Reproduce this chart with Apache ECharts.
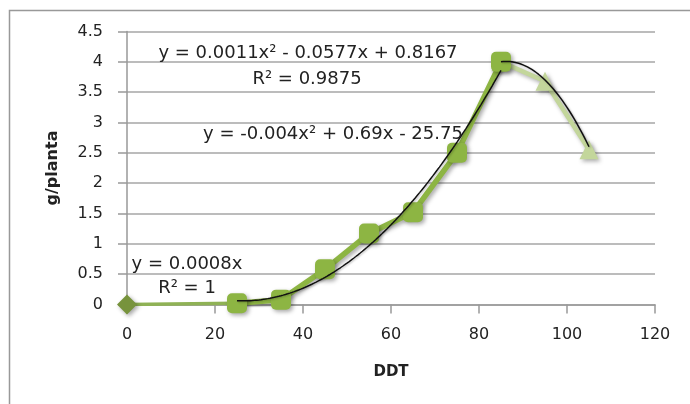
<!DOCTYPE html>
<html>
<head>
<meta charset="utf-8">
<script src="https://cdn.jsdelivr.net/npm/echarts@6/dist/echarts.min.js"></script>
<style>
  html, body { margin: 0; padding: 0; background: #fff; }
  #chart { width: 690px; height: 404px; }
</style>
</head>
<body>
<div id="chart"></div>
<script>
// Dry matter per plant (g/planta) against accumulated degree days (DDT)
const phase1 = [[0, 0], [25, 0.02]];
const phase2 = [[25, 0.02], [35, 0.08], [45, 0.58], [55, 1.17], [65, 1.52], [75, 2.5], [85, 4.0]];
const phase3 = [[85, 4.0], [95, 3.68], [105, 2.55]];

// Polynomial trendline coefficients [c2, c1, c0] and their x ranges
const trend2 = [0.0011, -0.0577, 0.8167];
const trend2Range = [25, 85];
const trend3 = [-0.004, 0.69, -25.75];
const trend3Range = [85, 105];

const xTicks = [0, 20, 40, 60, 80, 100, 120];
const yTicks = [0, 0.5, 1, 1.5, 2, 2.5, 3, 3.5, 4, 4.5];

const eqLabels = [
  'y = 0.0011x² - 0.0577x + 0.8167',
  'R² = 0.9875',
  'y = -0.004x² + 0.69x - 25.75',
  'y = 0.0008x',
  'R² = 1'
];

function polyCurve(c, range) {
  const pts = [];
  for (let x = range[0]; x <= range[1] + 1e-9; x += 0.5) {
    pts.push([x, c[0] * x * x + c[1] * x + c[2]]);
  }
  return pts;
}

const FONT = 'DejaVu Sans';
const EQ_FONT = '18px "' + FONT + '"';
const chart = echarts.init(document.getElementById('chart'), null, { renderer: 'canvas' });
const shadow = { shadowBlur: 4, shadowOffsetX: 2, shadowOffsetY: 2, shadowColor: 'rgba(0,0,0,0.35)' };
const trendStyle = { color: '#111', width: 1.5, shadowBlur: 2, shadowOffsetX: 1, shadowOffsetY: 1, shadowColor: 'rgba(0,0,0,0.25)' };

function eqText(x, y, text) {
  return { type: 'text', x: x, y: y, z: 10,
    style: { text: text, font: EQ_FONT, fill: '#222', align: 'center', verticalAlign: 'middle' } };
}

chart.setOption({
  animation: false,
  backgroundColor: '#ffffff',
  grid: { left: 127, right: 35, top: 31.5, bottom: 99.5 },
  xAxis: {
    type: 'value', min: xTicks[0], max: xTicks[xTicks.length - 1], interval: 20,
    name: 'DDT', nameLocation: 'middle', nameGap: 60,
    nameTextStyle: { fontFamily: FONT, fontSize: 15, fontWeight: 'bold', color: '#222' },
    axisLine: { show: true, lineStyle: { color: '#999', width: 1.5 } },
    axisTick: { show: true, length: 9, lineStyle: { color: '#999', width: 1.5 } },
    axisLabel: { fontFamily: FONT, fontSize: 16, color: '#222', margin: 22 },
    splitLine: { show: false }
  },
  yAxis: {
    type: 'value', min: yTicks[0], max: yTicks[yTicks.length - 1], interval: 0.5,
    name: 'g/planta', nameLocation: 'middle', nameGap: 66,
    nameTextStyle: { fontFamily: FONT, fontSize: 16, fontWeight: 'bold', color: '#222' },
    axisLine: { show: true, lineStyle: { color: '#999', width: 1.5 } },
    axisTick: { show: true, length: 9, lineStyle: { color: '#999', width: 1.5 } },
    axisLabel: { fontFamily: FONT, fontSize: 16, color: '#222', margin: 24 },
    splitLine: { show: true, lineStyle: { color: '#a6a6a6', width: 1.5 } }
  },
  series: [
    {
      type: 'line', data: phase1, z: 2,
      symbol: (v, p) => p.dataIndex === 0 ? 'diamond' : 'none',
      symbolSize: 20,
      itemStyle: Object.assign({ color: '#77933c' }, shadow),
      lineStyle: { color: '#8fb255', width: 3.5 }
    },
    {
      type: 'line', data: phase3, z: 3,
      symbol: 'triangle', symbolSize: 19,
      itemStyle: Object.assign({ color: '#c3d69b' }, shadow),
      lineStyle: Object.assign({ color: '#c3d69b', width: 4.5 }, shadow)
    },
    {
      type: 'line', data: phase2, z: 4,
      symbol: 'roundRect', symbolSize: 20,
      itemStyle: Object.assign({ color: '#8db543' }, shadow),
      lineStyle: Object.assign({ color: '#8db543', width: 5.5 }, shadow)
    },
    {
      type: 'line', data: polyCurve(trend2, trend2Range), z: 6,
      symbol: 'none', lineStyle: trendStyle
    },
    {
      type: 'line', data: polyCurve(trend3, trend3Range), z: 6,
      symbol: 'none', lineStyle: trendStyle
    }
  ],
  graphic: [
    { type: 'rect', left: 7, top: 8, shape: { width: 720, height: 440 }, style: { fill: 'none', stroke: '#999', lineWidth: 1.5 }, silent: true, z: -1 },
    eqText(308, 53, eqLabels[0]),
    eqText(307, 79, eqLabels[1]),
    eqText(333, 134, eqLabels[2]),
    eqText(187, 264, eqLabels[3]),
    eqText(187, 288, eqLabels[4])
  ]
});
</script>
</body>
</html>
